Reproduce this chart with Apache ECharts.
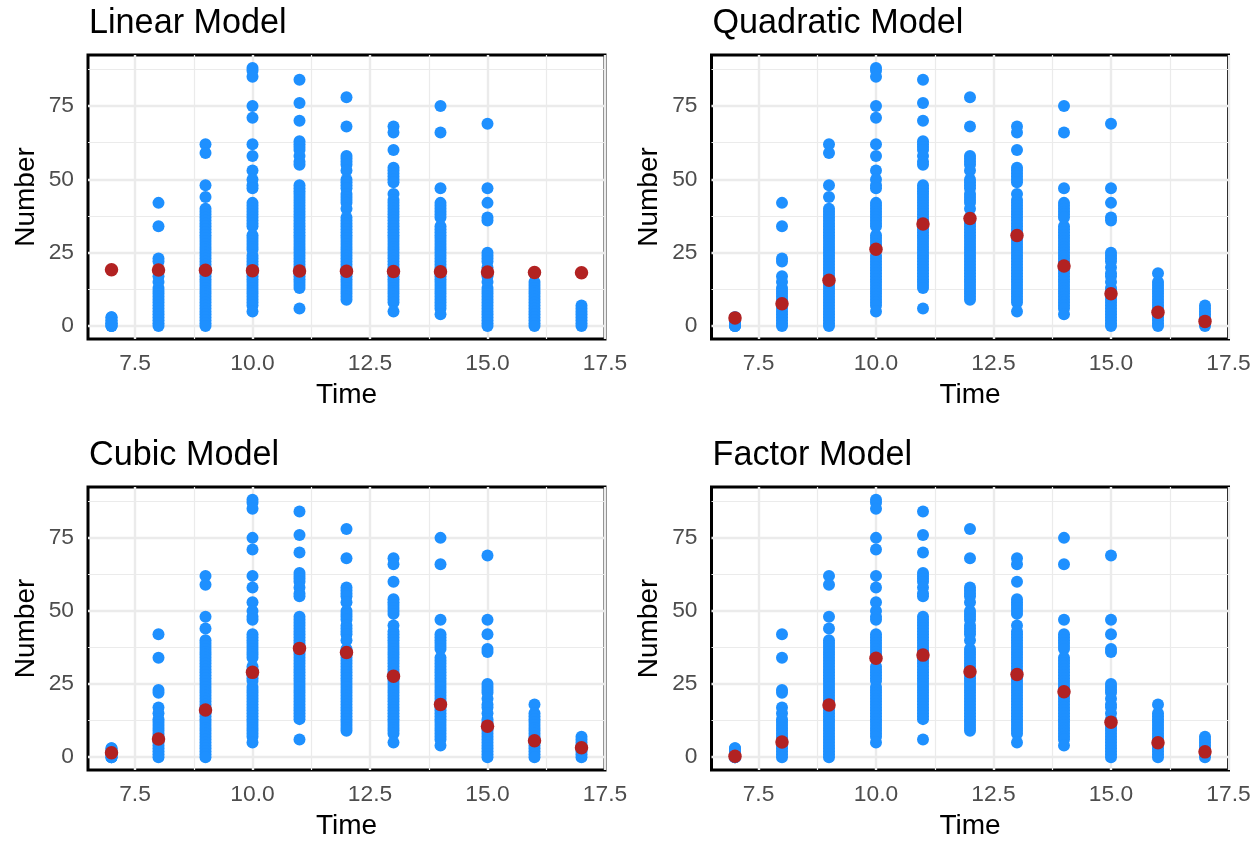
<!DOCTYPE html>
<html>
<head>
<meta charset="utf-8">
<script src="https://cdn.jsdelivr.net/npm/echarts@6/dist/echarts.min.js"></script>
<style>
  html, body { margin: 0; padding: 0; background: #fff; }
  #chart { width: 1257px; height: 841px; }
</style>
</head>
<body>
<div id="chart"></div>
<script>
// observed counts, one list per hour
const times = [7, 8, 9, 10, 11, 12, 13, 14, 15, 16, 17];
const numbersAt7 = [0, 0, 1, 1, 2, 2, 3, 3, 0, 1];
const numbersAt8 = [42, 34, 23, 22, 17, 15, 13, 12, 11, 10, 9, 8, 7, 6, 5, 4, 3, 2, 1, 0];
const numbersAt9 = [62, 59, 48, 44, 40, 39, 38, 37, 36, 35, 34, 33, 32, 31, 30, 29, 28, 27, 26, 25, 24, 23, 22, 21, 20, 19, 18, 17, 16, 15, 14, 13, 12, 11, 10, 9, 8, 7, 6, 5, 4, 3, 2, 1, 0];
const numbersAt10 = [88, 87, 85, 75, 71, 62, 58, 53, 50, 48, 47, 42, 41, 40, 39, 38, 37, 36, 35, 34, 31, 30, 29, 28, 27, 26, 24, 23, 22, 21, 20, 19, 18, 17, 16, 15, 14, 13, 12, 11, 10, 9, 8, 7, 5];
const numbersAt11 = [84, 76, 70, 63, 62, 61, 60, 58, 56, 55, 48, 47, 46, 45, 44, 43, 42, 41, 40, 39, 38, 37, 36, 35, 34, 33, 32, 31, 30, 29, 28, 27, 26, 25, 24, 23, 22, 21, 20, 19, 18, 17, 16, 15, 14, 13, 6];
const numbersAt12 = [78, 68, 58, 57, 56, 55, 53, 50, 49, 48, 47, 45, 44, 43, 42, 40, 37, 36, 35, 34, 33, 32, 31, 30, 29, 28, 27, 26, 25, 24, 23, 22, 21, 20, 19, 18, 17, 16, 15, 14, 13, 12, 11, 10, 9];
const numbersAt13 = [68, 66, 60, 54, 53, 52, 51, 50, 49, 45, 43, 42, 41, 40, 39, 38, 37, 36, 35, 34, 33, 32, 31, 30, 29, 28, 27, 26, 25, 24, 23, 22, 21, 20, 19, 18, 17, 16, 15, 14, 13, 12, 11, 10, 9, 8, 5];
const numbersAt14 = [75, 66, 47, 42, 41, 40, 39, 38, 37, 34, 33, 32, 31, 30, 29, 28, 27, 26, 25, 24, 23, 22, 21, 20, 19, 18, 17, 16, 15, 14, 13, 12, 11, 10, 9, 8, 7, 6, 4];
const numbersAt15 = [69, 47, 42, 37, 36, 25, 24, 23, 22, 20, 18, 17, 15, 13, 12, 11, 10, 9, 8, 7, 6, 5, 4, 3, 2, 1, 0];
const numbersAt16 = [18, 15, 14, 13, 12, 11, 10, 9, 8, 7, 6, 5, 4, 3, 2, 1, 0];
const numbersAt17 = [7, 6, 5, 4, 3, 2, 1, 0];

// fitted values of each model, one per hour
const linearFit = [19.2, 19.1, 19.0, 18.9, 18.8, 18.7, 18.6, 18.5, 18.4, 18.3, 18.2];
const quadraticFit = [2.8, 7.6, 15.6, 26.2, 34.8, 36.7, 30.9, 20.5, 11.0, 4.7, 1.6];
const cubicFit = [1.5, 6.2, 16.1, 29.0, 37.2, 35.8, 27.7, 18.0, 10.6, 5.6, 3.2];
const factorFit = [0.3, 5.2, 17.8, 33.8, 34.9, 29.2, 28.3, 22.4, 11.9, 4.9, 1.8];

const panelTitles = ["Linear Model", "Quadratic Model", "Cubic Model", "Factor Model"];
const xTicks = [7.5, 10, 12.5, 15, 17.5];
const xMinorTicks = [8.75, 11.25, 13.75, 16.25];
const yTicks = [0, 25, 50, 75];
const yMinorTicks = [12.5, 37.5, 62.5, 87.5];

const observed = [numbersAt7, numbersAt8, numbersAt9, numbersAt10, numbersAt11, numbersAt12,
  numbersAt13, numbersAt14, numbersAt15, numbersAt16, numbersAt17];
const fits = [linearFit, quadraticFit, cubicFit, factorFit];

const points = [];
times.forEach((t, i) => observed[i].forEach((v) => points.push([t, v])));

const font = "'Liberation Sans', Arial, Helvetica, sans-serif";
const lefts = [88, 711.5];
const tops = [55, 487];

const grids = [], xAxes = [], yAxes = [], titles = [], series = [];
panelTitles.forEach((name, i) => {
  const left = lefts[i % 2];
  const top = tops[Math.floor(i / 2)];
  grids.push({
    left: left, top: top, width: 517, height: 284,
    show: true, borderColor: "#000", borderWidth: 3, backgroundColor: "transparent",
  });
  titles.push({
    text: name, left: left + 1, top: top - 48, padding: 0,
    textStyle: { fontSize: 34.2, fontWeight: "normal", color: "#000", fontFamily: font },
  });
  xAxes.push({
    type: "value", gridIndex: i, min: 6.5, max: 17.5,
    name: "Time", nameLocation: "middle", nameGap: 42,
    nameTextStyle: { fontSize: 28, color: "#000", fontFamily: font },
    axisLine: { show: false }, axisTick: { show: false }, splitLine: { show: false },
    axisLabel: {
      customValues: xTicks, margin: 13, fontSize: 22.8, color: "#4D4D4D", fontFamily: font,
      formatter: (v) => v.toFixed(1),
    },
  });
  yAxes.push({
    type: "value", gridIndex: i, min: -4.4, max: 92.4,
    name: "Number", nameLocation: "middle", nameGap: 48, nameRotate: 90,
    nameTextStyle: { fontSize: 28, color: "#000", fontFamily: font },
    axisLine: { show: false }, axisTick: { show: false }, splitLine: { show: false },
    axisLabel: {
      customValues: yTicks, margin: 14, fontSize: 22.8, color: "#4D4D4D", fontFamily: font,
    },
  });

  // panel grid lines
  const gridLines = [];
  xTicks.forEach((v) => gridLines.push({ xAxis: v, lineStyle: { width: 2.4 } }));
  xMinorTicks.forEach((v) => gridLines.push({ xAxis: v, lineStyle: { width: 1.2 } }));
  yTicks.forEach((v) => gridLines.push({ yAxis: v, lineStyle: { width: 2.4 } }));
  yMinorTicks.forEach((v) => gridLines.push({ yAxis: v, lineStyle: { width: 1.2 } }));
  series.push({
    type: "scatter", xAxisIndex: i, yAxisIndex: i, data: [], z: 1, silent: true,
    markLine: {
      silent: true, z: 1, symbol: ["none", "none"], label: { show: false },
      animation: false,
      lineStyle: { color: "#EBEBEB", type: "solid" },
      emphasis: { disabled: true },
      data: gridLines,
    },
  });

  series.push({
    type: "scatter", xAxisIndex: i, yAxisIndex: i, z: 2,
    data: points, symbolSize: 12,
    itemStyle: { color: "#1E90FF", opacity: 1 },
  });
  series.push({
    type: "scatter", xAxisIndex: i, yAxisIndex: i, z: 3,
    data: times.map((t, k) => [t, fits[i][k]]), symbolSize: 13.5,
    itemStyle: { color: "#B22222", opacity: 1 },
  });
});

const chart = echarts.init(document.getElementById("chart"), null, { renderer: "canvas" });
chart.setOption({
  animation: false,
  backgroundColor: "#fff",
  title: titles,
  grid: grids,
  xAxis: xAxes,
  yAxis: yAxes,
  series: series,
});
</script>
</body>
</html>
